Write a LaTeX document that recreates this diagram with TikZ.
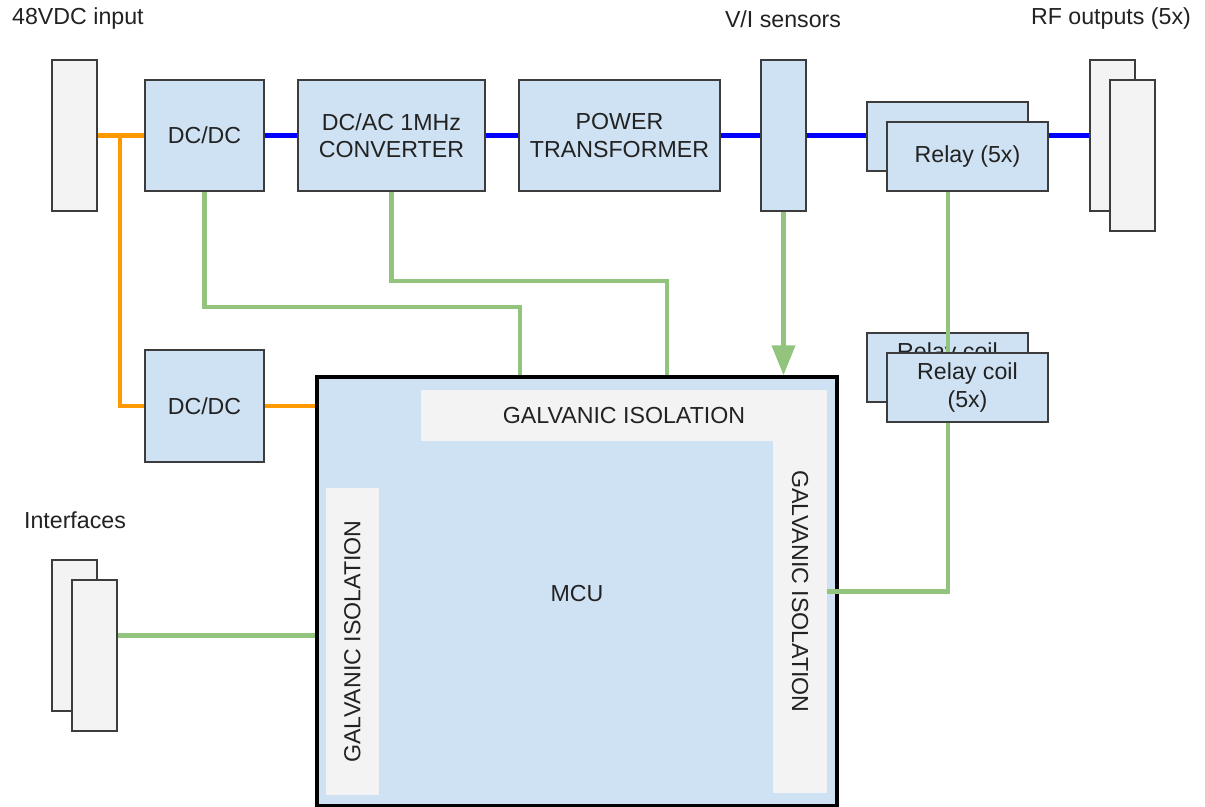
\documentclass[tikz,border=0pt]{standalone}
\usepackage{fontspec}
\setmainfont{Liberation Sans}
\usetikzlibrary{positioning,arrows.meta}

\definecolor{boxblue}{HTML}{CFE2F3}
\definecolor{portgray}{HTML}{F3F3F3}
\definecolor{edgegray}{HTML}{3C3C3C}
\definecolor{sigreen}{HTML}{93C47D}
\definecolor{pwrorange}{HTML}{FF9900}
\definecolor{inkgray}{HTML}{222222}

\tikzset{
  block/.style={draw=edgegray, line width=0.7pt, fill=boxblue, align=center, inner sep=0pt},
  port/.style={draw=edgegray, line width=0.7pt, fill=portgray, inner sep=0pt,
    minimum width=0.9cm, minimum height=3.02cm},
  iso/.style={fill=portgray, inner sep=0pt},
  rfline/.style={blue, line width=2.3pt},
  pwr/.style={pwrorange, line width=2.3pt},
  sig/.style={sigreen, line width=2.3pt},
}

\begin{document}
\begin{tikzpicture}[x=0.02cm, y=-0.02cm,
  every node/.append style={font=\fontsize{13.2}{15.5}\selectfont, text=inkgray}]
\useasboundingbox (0,0) rectangle (1205,807);

% labels
\node[anchor=west] (lblin) at (6,19) {48VDC input};
\node (lblvi) at (783,19) {V/I sensors};
\node (lblrf) at (1111,19) {RF outputs (5x)};
\node (lblif) at (75,520) {Interfaces};

% connectors
\node[port] (in48) at (74.5,135.5) {};
\node[port] (vis) at (783.5,135.5) [fill=boxblue] {};
\foreach \n/\x/\y in {rfB/1112.5/135.5, rfF/1132.5/155.5, ifB/74.5/635.5, ifF/94.5/655.5}
  \node[port] (\n) at (\x,\y) {};

% power chain
\node[block, minimum width=2.38cm, minimum height=2.22cm] (dcdcA) at (204.5,135.5) {DC/DC};
\node[block, minimum width=3.74cm, minimum height=2.22cm] (dcac) at (391.5,135.5) {DC/AC 1MHz\\CONVERTER};
\node[block, minimum width=4.02cm, minimum height=2.22cm] (ptr) at (619.5,135.5) {POWER\\TRANSFORMER};
\node[block, minimum width=2.38cm, minimum height=2.24cm] (dcdcB) at (204.5,406) {DC/DC};

% relays, stacked
\node[block, minimum width=3.22cm, minimum height=1.38cm] (relB) at (947.5,136.5) {};
\node[block, minimum width=3.22cm, minimum height=1.38cm] (relF) at (967.5,156.5) {Relay (5x)};
\node[block, minimum width=3.22cm, minimum height=1.38cm] (coilB) at (947.5,367.5) {Relay coil\\(5x)};
\node[block, minimum width=3.22cm, minimum height=1.38cm] (coilF) at (967.5,387.5) {Relay coil\\(5x)};

% MCU with isolation barriers
\node[draw=black, line width=2pt, fill=boxblue, minimum width=10.4cm, minimum height=8.58cm] (mcu) at (577,591.5) {};
\node[iso, minimum width=8.12cm, minimum height=1.02cm] (gtop) at (624,415.5) {};
\node[iso, minimum width=1.08cm, minimum height=8.06cm] (gright) at (800,591.5) {};
\node[iso, minimum width=1.06cm, minimum height=6.14cm] (gleft) at (352.5,641.5) {};
\node (gtoptxt) at (624,415.5) {GALVANIC ISOLATION};
\node[rotate=-90] (grighttxt) at (800,591.5) {GALVANIC ISOLATION};
\node[rotate=90] (glefttxt) at (352.5,641.5) {GALVANIC ISOLATION};
\node (mcutxt) at (577,594) {MCU};

% RF path
\foreach \a/\b in {dcdcA/dcac, dcac/ptr, ptr/vis}
  \draw[rfline] (\a.east) -- (\b.west);
\draw[rfline] (vis.east) -- (vis.east -| relB.west);
\draw[rfline] (relF.east |- rfB.west) -- (rfB.west);

% 48V supply
\coordinate (tee) at (120,135.5);
\draw[pwr] (in48.east) -- (dcdcA.west);
\draw[pwr] (tee) |- (dcdcB.west);
\draw[pwr] (dcdcB.east) -- (dcdcB.east -| mcu.west);

% control / sense
\coordinate (bendA) at (520,307);
\coordinate (bendB) at (667,281);
\coordinate (coilx) at (948,0);
\draw[sig] (dcdcA.south) |- (bendA) -- (bendA |- mcu.north);
\draw[sig] (dcac.south) |- (bendB) -- (bendB |- mcu.north);
\draw[sig, -{Triangle[length=0.6cm, width=0.46cm]}] (vis.south) -- (vis.south |- mcu.north);
\draw[sig] (coilx |- relF.south) -- (coilx |- coilF.north);
\draw[sig] (coilx |- coilF.south) |- (gright.east);
\draw[sig] (ifF.east |- ifB.east) -- (ifB.east -| mcu.west);

\end{tikzpicture}
\end{document}
